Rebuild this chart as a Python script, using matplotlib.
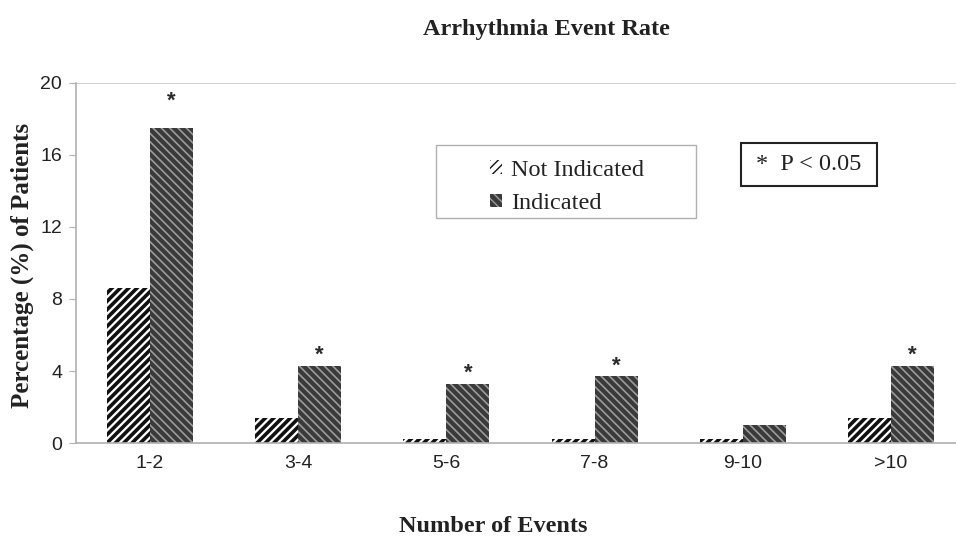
import numpy as np
import matplotlib.pyplot as plt
from matplotlib.patches import Rectangle

categories = ['1-2', '3-4', '5-6', '7-8', '9-10', '>10']
not_indicated = [8.6, 1.4, 0.2, 0.2, 0.2, 1.4]
indicated = [17.5, 4.3, 3.3, 3.7, 1.0, 4.3]
significant = [True, True, True, True, False, True]
yticks = [0, 4, 8, 12, 16, 20]

serif = ['Liberation Serif', 'DejaVu Serif']
sans = ['Liberation Sans', 'DejaVu Sans']
W, H = 956, 538

fig = plt.figure(figsize=(9.56, 5.38), dpi=100)
ax = fig.add_axes([76 / W, 95 / H, 889 / W, 360 / H])

x = np.arange(len(categories))
w = 0.29

ax.bar(x - w / 2, not_indicated, w, facecolor='white', edgecolor='#111111',
       hatch='////', linewidth=0, label='Not Indicated', hatch_linewidth=2.6)
ax.bar(x + w / 2, indicated, w, facecolor='#3a3a3a', edgecolor='#9c9c9c',
       hatch='\\\\\\\\', linewidth=0, label='Indicated', hatch_linewidth=1.2)

# significance stars
for i, (v, s) in enumerate(zip(indicated, significant)):
    if s:
        off = 12 if i == 0 else 0
        ax.annotate('*', (x[i] + w / 2, v), xytext=(0, off), textcoords='offset points',
                    ha='center', va='bottom', fontsize=16, fontweight='bold',
                    family=sans, color='#2a2a2a')

ax.set_xlim(-0.5, len(categories) - 0.5)
ax.set_ylim(0, 20)
ax.set_yticks(yticks)
ax.set_xticks(x)
ax.set_xticklabels(categories, family=sans, fontsize=14, color='#222222')
ax.set_yticklabels([str(t) for t in yticks], family=sans, fontsize=14, color='#222222')
ax.tick_params(axis='x', length=0, pad=9)
ax.tick_params(axis='y', length=5, color='#b0b0b0', pad=5)
ax.axhline(20, color='#c8c8c8', lw=1.2, zorder=0)

for side in ['top', 'right']:
    ax.spines[side].set_visible(False)
for side in ['left', 'bottom']:
    ax.spines[side].set_color('#b0b0b0')
    ax.spines[side].set_linewidth(1.2)

# legend with a wide frame
fig.patches.append(Rectangle((436 / W, 1 - 218 / H), 260 / W, 73 / H, transform=fig.transFigure,
                             facecolor='white', edgecolor='#b0b0b0', lw=1.0, zorder=3))
leg = fig.legend(loc='upper left', bbox_to_anchor=(490 / W, 1 - 160 / H),
                 frameon=False, prop={'family': serif, 'size': 17.5},
                 handlelength=0.5, handleheight=0.5, handletextpad=0.35,
                 borderpad=0, labelspacing=0.5, borderaxespad=0)
leg.set_zorder(4)
for t in leg.get_texts():
    t.set_color('#222222')

# p-value box
fig.patches.append(Rectangle((741 / W, 1 - 186 / H), 136 / W, 43 / H, transform=fig.transFigure,
                             facecolor='white', edgecolor='#222222', lw=1.5, zorder=3))
fig.text(809 / W, 1 - 165 / H, '*  P < 0.05', ha='center', va='center', family=serif,
         fontsize=17.5, color='#222222', zorder=4)

fig.text(546 / W, 1 - 29 / H, 'Arrhythmia Event Rate', ha='center', va='center',
         family=serif, fontsize=17.5, fontweight='bold', color='#222222')
fig.text(493 / W, 1 - 526 / H, 'Number of Events', ha='center', va='center',
         family=serif, fontsize=17.5, fontweight='bold', color='#222222')
fig.text(22 / W, 1 - 265 / H, 'Percentage (%) of Patients', ha='center', va='center',
         rotation=90, family=serif, fontsize=18, fontweight='bold', color='#222222')

fig.savefig('out.png', dpi=100, facecolor='white')
